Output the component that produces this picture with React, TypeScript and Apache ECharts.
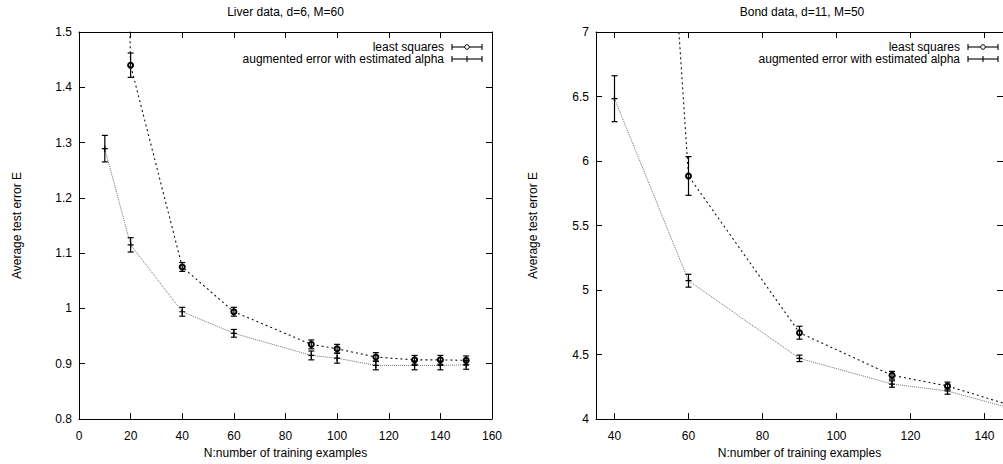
import React, { useEffect, useRef } from "react";
import * as echarts from "echarts";

// Liver data, d=6, M=60
const liverN = [10, 20, 40, 60, 90, 100, 115, 130, 140, 150];
const liverLs = [3.4, 1.44, 1.075, 0.994, 0.935, 0.927, 0.912, 0.907, 0.907, 0.906];
const liverLsErr = [0.1, 0.022, 0.008, 0.008, 0.008, 0.008, 0.008, 0.008, 0.008, 0.008];
const liverAug = [1.289, 1.115, 0.994, 0.955, 0.915, 0.91, 0.897, 0.897, 0.897, 0.898];
const liverAugErr = [0.024, 0.013, 0.008, 0.007, 0.008, 0.009, 0.008, 0.008, 0.008, 0.008];

// Bond data, d=11, M=50
const bondN = [40, 60, 90, 115, 130, 150];
const bondLs = [14.5, 5.884, 4.669, 4.339, 4.256, 4.08];
const bondLsErr = [0.5, 0.15, 0.05, 0.03, 0.03, 0.03];
const bondAug = [6.483, 5.072, 4.47, 4.271, 4.217, 4.06];
const bondAugErr = [0.178, 0.05, 0.025, 0.025, 0.025, 0.025];

const bondXTicks = [40, 60, 80, 100, 120, 140];

const titles = ["Liver data, d=6, M=60", "Bond data, d=11, M=50"];
const legendNames = ["least squares", "augmented error with estimated alpha"];
const xName = "N:number of training examples";
const yName = "Average test error E";

const FONT = "'Liberation Sans', Arial, Helvetica, sans-serif";

const G = [
  { left: 79, top: 32, width: 413, height: 387 },
  { left: 596, top: 32, width: 412, height: 387 },
];

function pairs(xs: number[], ys: number[]) {
  return xs.map((x, i) => [x, ys[i]]);
}
function bars(xs: number[], ys: number[], es: number[]) {
  return xs.map((x, i) => [x, ys[i] - es[i], ys[i] + es[i]]);
}

const renderErr = (params: any, api: any) => {
  const x = api.value(0);
  const lo = api.value(1);
  const hi = api.value(2);
  const a = api.coord([x, hi]);
  const b = api.coord([x, lo]);
  const w = 3;
  const st = { stroke: "#000", lineWidth: 1.2 };
  return {
    type: "group",
    children: [
      { type: "line", shape: { x1: a[0], y1: a[1], x2: b[0], y2: b[1] }, style: st },
      { type: "line", shape: { x1: a[0] - w, y1: a[1], x2: a[0] + w, y2: a[1] }, style: st },
      { type: "line", shape: { x1: b[0] - w, y1: b[1], x2: b[0] + w, y2: b[1] }, style: st },
    ],
  };
};

const CROSS = "path://M4,0H6V4H10V6H6V10H4V6H0V4H4Z";

function axisCommon() {
  return {
    axisLine: { show: true, onZero: false, lineStyle: { color: "#000", width: 1 } },
    axisTick: { show: true, inside: true, length: 6, lineStyle: { color: "#000", width: 1 } },
    splitLine: { show: false },
  };
}

function legendGraphics(rightEdge: number) {
  const textX = rightEdge - 48;
  const s0 = rightEdge - 40;
  const s1 = rightEdge - 10;
  const rows = [47, 59];
  const out: any[] = [];
  const st = { stroke: "#000", lineWidth: 1.1 };
  rows.forEach((y, i) => {
    out.push({
      type: "text",
      x: textX,
      y,
      style: { text: legendNames[i], align: "right", verticalAlign: "middle", font: `12px ${FONT}`, fill: "#000" },
    });
    out.push({ type: "line", shape: { x1: s0, y1: y, x2: s1, y2: y }, style: st });
    out.push({ type: "line", shape: { x1: s0, y1: y - 3, x2: s0, y2: y + 3 }, style: st });
    out.push({ type: "line", shape: { x1: s1, y1: y - 3, x2: s1, y2: y + 3 }, style: st });
    const cx = (s0 + s1) / 2;
    if (i === 0) {
      out.push({ type: "circle", shape: { cx, cy: y, r: 2.3 }, style: { fill: "#fff", stroke: "#000", lineWidth: 1 } });
    } else {
      out.push({ type: "line", shape: { x1: cx, y1: y - 3, x2: cx, y2: y + 3 }, style: st });
    }
  });
  return out;
}

export default function App() {
  const ref = useRef<HTMLDivElement>(null);
  useEffect(() => {
    document.body.style.margin = "0";
    if (!ref.current) return;
    const chart = echarts.init(ref.current, null, { renderer: "svg" });
    const labelStyle = { color: "#000", fontSize: 12, fontFamily: FONT };
    const nameStyle = { color: "#000", fontSize: 12, fontFamily: FONT };

    const xAxis: any[] = [
      {
        ...axisCommon(),
        type: "value",
        gridIndex: 0,
        position: "bottom",
        min: 0,
        max: 160,
        interval: 20,
        axisLabel: { ...labelStyle, margin: 11 },
        name: xName,
        nameLocation: "middle",
        nameGap: 26,
        nameTextStyle: nameStyle,
      },
      {
        ...axisCommon(),
        type: "value",
        gridIndex: 0,
        position: "top",
        min: 0,
        max: 160,
        interval: 20,
        axisLabel: { show: false },
      },
      {
        ...axisCommon(),
        type: "value",
        gridIndex: 1,
        position: "bottom",
        min: 35,
        max: 145,
        axisTick: { ...axisCommon().axisTick, customValues: bondXTicks },
        axisLabel: { ...labelStyle, margin: 11, customValues: bondXTicks },
        name: xName,
        nameLocation: "middle",
        nameGap: 26,
        nameTextStyle: nameStyle,
      },
      {
        ...axisCommon(),
        type: "value",
        gridIndex: 1,
        position: "top",
        min: 35,
        max: 145,
        axisTick: { ...axisCommon().axisTick, customValues: bondXTicks },
        axisLabel: { show: false, customValues: bondXTicks },
      },
    ];

    const yAxis: any[] = [
      {
        ...axisCommon(),
        type: "value",
        gridIndex: 0,
        position: "left",
        min: 0.8,
        max: 1.5,
        interval: 0.1,
        axisLabel: { ...labelStyle, margin: 7 },
        name: yName,
        nameLocation: "middle",
        nameGap: 56,
        nameRotate: 90,
        nameTextStyle: nameStyle,
      },
      {
        ...axisCommon(),
        type: "value",
        gridIndex: 0,
        position: "right",
        min: 0.8,
        max: 1.5,
        interval: 0.1,
        axisLabel: { show: false },
      },
      {
        ...axisCommon(),
        type: "value",
        gridIndex: 1,
        position: "left",
        min: 4,
        max: 7,
        interval: 0.5,
        axisLabel: { ...labelStyle, margin: 7 },
        name: yName,
        nameLocation: "middle",
        nameGap: 57,
        nameRotate: 90,
        nameTextStyle: nameStyle,
      },
      {
        ...axisCommon(),
        type: "value",
        gridIndex: 1,
        position: "right",
        min: 4,
        max: 7,
        interval: 0.5,
        axisLabel: { show: false },
      },
    ];

    const mkSeries = (xi: number, yi: number, xs: number[], ls: number[], lsE: number[], au: number[], auE: number[]) => [
      {
        type: "line",
        name: legendNames[0],
        xAxisIndex: xi,
        yAxisIndex: yi,
        data: pairs(xs, ls),
        clip: true,
        symbol: "emptyCircle",
        symbolSize: 5,
        itemStyle: { color: "#000", borderWidth: 1 },
        lineStyle: { color: "#111", width: 1.1, type: [2, 3] },
        z: 3,
      },
      {
        type: "line",
        name: legendNames[1],
        xAxisIndex: xi,
        yAxisIndex: yi,
        data: pairs(xs, au),
        clip: true,
        symbol: CROSS,
        symbolSize: 6,
        itemStyle: { color: "#000" },
        lineStyle: { color: "#6f6f6f", width: 1, type: [1, 1] },
        z: 3,
      },
      {
        type: "custom",
        xAxisIndex: xi,
        yAxisIndex: yi,
        clip: true,
        renderItem: renderErr,
        encode: { x: 0, y: [1, 2] },
        data: bars(xs, ls, lsE),
        z: 4,
      },
      {
        type: "custom",
        xAxisIndex: xi,
        yAxisIndex: yi,
        clip: true,
        renderItem: renderErr,
        encode: { x: 0, y: [1, 2] },
        data: bars(xs, au, auE),
        z: 4,
      },
    ];

    const graphic: any[] = [
      {
        type: "text",
        x: G[0].left + G[0].width / 2,
        y: 12,
        style: { text: titles[0], align: "center", verticalAlign: "middle", font: `12px ${FONT}`, fill: "#000" },
      },
      {
        type: "text",
        x: G[1].left + G[1].width / 2,
        y: 12,
        style: { text: titles[1], align: "center", verticalAlign: "middle", font: `12px ${FONT}`, fill: "#000" },
      },
      ...legendGraphics(G[0].left + G[0].width),
      ...legendGraphics(G[1].left + G[1].width),
    ];

    chart.setOption({
      animation: false,
      backgroundColor: "#fff",
      textStyle: { fontFamily: FONT },
      grid: G.map((g) => ({ ...g, containLabel: false })),
      xAxis,
      yAxis,
      series: [
        ...mkSeries(0, 0, liverN, liverLs, liverLsErr, liverAug, liverAugErr),
        ...mkSeries(2, 2, bondN, bondLs, bondLsErr, bondAug, bondAugErr),
      ],
      graphic,
    });
    return () => chart.dispose();
  }, []);
  return <div ref={ref} style={{ width: 1003, height: 464 }} />;
}
